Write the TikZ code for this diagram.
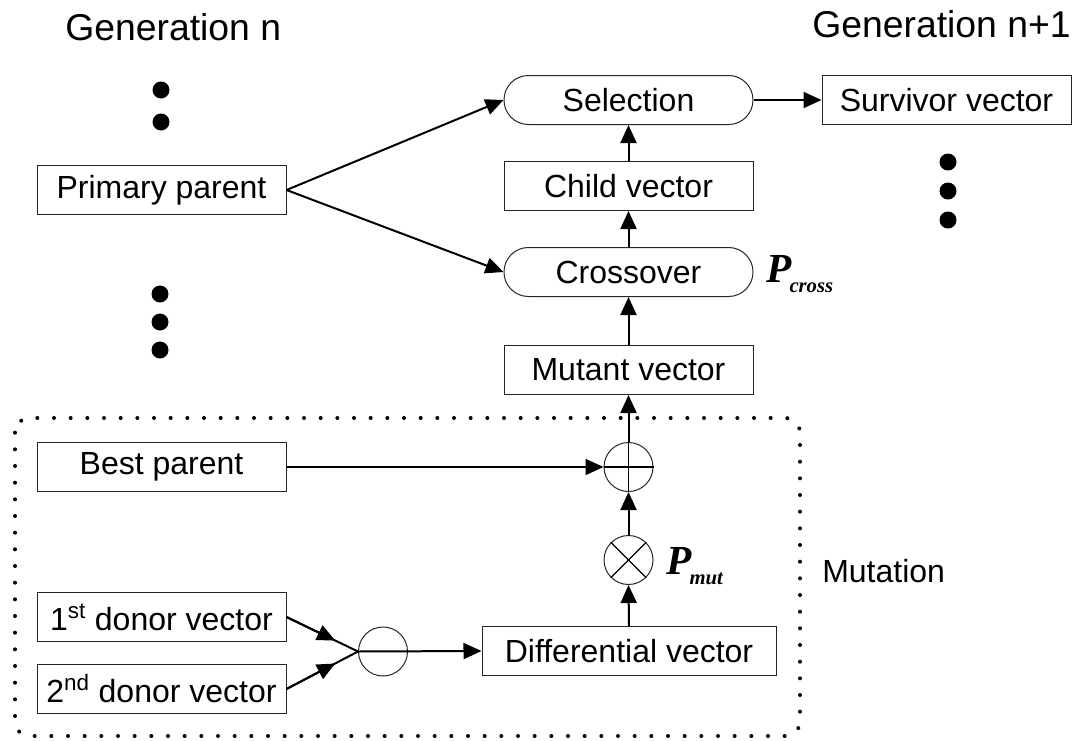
\documentclass[tikz,border=0pt]{standalone}
\usepackage{fontspec}
\setmainfont{Liberation Sans}
\newfontfamily\timesfont{Liberation Serif}
\usetikzlibrary{arrows.meta,calc}

\tikzset{
  block/.style={draw=black!85, line width=0.75pt, minimum width=186.75pt, minimum height=36.75pt, inner sep=0pt, font=\fontsize{24}{28}\selectfont},
  pill/.style={block, rounded corners=18.3pt},
  opnode/.style={draw=black!85, circle, line width=0.75pt, minimum size=36.75pt, inner sep=0pt},
  flow/.style={line width=1.5pt, -{Triangle[length=13.5pt,width=12pt]}},
  wire/.style={line width=1.5pt},
  headtext/.style={inner sep=0pt, font=\fontsize{28}{32}\selectfont},
  sidetext/.style={inner sep=0pt, font=\fontsize{24}{28}\selectfont},
  prob/.style={inner sep=0pt, font=\timesfont\bfseries\itshape\fontsize{31}{33}\selectfont},
  dotmark/.style={fill=black}
}
\newcommand{\probsub}[1]{\kern-1.5pt\raisebox{-8pt}{\fontsize{15.5}{16}\selectfont #1}}

\begin{document}
\begin{tikzpicture}[x=0.75pt,y=0.75pt,yscale=-1,xscale=1]
\useasboundingbox (0,0) rectangle (1076,740);

% Text Node
\node[headtext, anchor=base west] (gen) at (65,40) {Generation n};
% Text Node
\node[headtext, anchor=base west] (gennext) at (812,37) {Generation n+1};

% Dots
\foreach \y in {90,122} \fill[dotmark] (161,\y) circle (8.5);
\foreach \y in {294,322,350} \fill[dotmark] (160,\y) circle (8.5);
\foreach \y in {162,191,220} \fill[dotmark] (948,\y) circle (8.5);

%Mutation region
\draw [line width=3pt, line cap=round, dash pattern={on 0pt off 12.5pt}, rounded corners=11pt] (15,418) rectangle (800,736);

% Blocks
\node[block] (prim) at (161.5,190) {Primary parent};
\node[pill] (sel) at (628.5,100) {Selection};
\node[block] (surv) at (946.5,100) {Survivor vector};
\node[block] (child) at (628.5,186) {Child vector};
\node[pill] (cross) at (628.5,272) {Crossover};
\node[block] (mutant) at (628.5,370) {Mutant vector};
\node[block] (best) at (161.5,467) {Best parent};
\node[block] (dona) at (161.5,617) {1\textsuperscript{st} donor vector};
\node[block] (donb) at (161.5,689) {2\textsuperscript{nd} donor vector};
\node[block, minimum width=220.5pt] (diff) at (629,651) {Differential vector};

% Operators
\node[opnode] (add) at (628.5,467) {};
\node[opnode] (mul) at (628.5,560) {};
\node[opnode] (sub) at (383,651.5) {};
\draw [line width=0.9pt] (add.north) -- (add.south) (add.west) -- (add.east);
\draw [line width=0.9pt] (mul.north west) -- (mul.south east) (mul.north east) -- (mul.south west);

% Text Node
\node[prob, anchor=base west] (pcross) at (766,282) {P\probsub{cross}};
% Text Node
\node[prob, anchor=base west] (pmut) at (666,574) {P\probsub{mut}};
% Text Node
\node[sidetext, anchor=west] (mutlabel) at (822,571) {Mutation};

%Straight Lines
\draw[flow] (prim.east) -- (sel.west);
\draw[flow] (prim.east) -- (cross.west);
\draw[flow] (sel.east) -- (surv.west);
\draw[flow] (child.north) -- (sel.south);
\draw[flow] (cross.north) -- (child.south);
\draw[flow] (mutant.north) -- (cross.south);
\draw[flow] (add.north) -- (mutant.south);
\draw[flow] (mul.north) -- (add.south);
\draw[flow] (best.east) -- (add.west);
\draw[flow] (diff.north) -- (mul.south);
\draw[flow] (sub.west) -- (diff.west);

%Donor lines
\draw[wire] (dona.east) -- (sub.west);
\draw[wire] (donb.east) -- (sub.west);
\draw[flow] (dona.east) -- ($(dona.east)!0.68!(sub.west)$);
\draw[flow] (donb.east) -- ($(donb.east)!0.68!(sub.west)$);

\end{tikzpicture}
\end{document}
